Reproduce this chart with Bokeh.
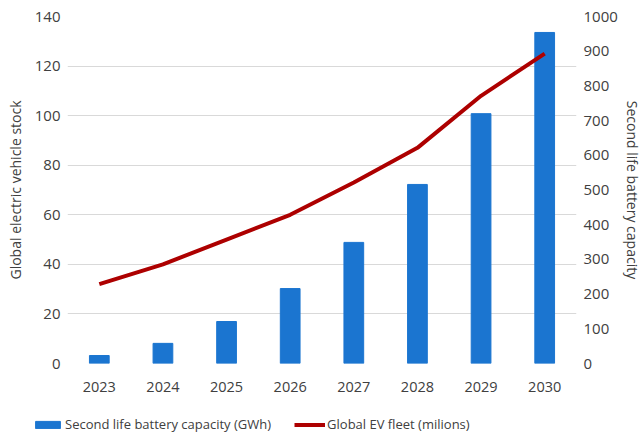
from bokeh.plotting import figure
from bokeh.models import (Range1d, LinearAxis, FixedTicker, Legend, LegendItem, FactorRange)
from bokeh.layouts import column
from bokeh.embed import file_html
from bokeh.resources import INLINE

years = ["2023", "2024", "2025", "2026", "2027", "2028", "2029", "2030"]
battery_gwh = [23, 58, 121, 216, 349, 516, 720, 954]
ev_fleet = [32, 40, 50, 60, 73, 87, 108, 125]
left_ticks = [0, 20, 40, 60, 80, 100, 120, 140]
right_ticks = [0, 100, 200, 300, 400, 500, 600, 700, 800, 900, 1000]

FONT = "Open Sans"
TXT = "#404040"
BLUE = "#1b75d0"
RED = "#ad0000"
W = 644

xr = FactorRange(*years, range_padding=0)
p = figure(width=W, height=403, x_range=xr,
           y_range=Range1d(0, 140), output_backend="svg", toolbar_location=None,
           min_border_left=67, min_border_right=66, min_border_top=16, min_border_bottom=40)
p.frame_align = False
p.extra_y_ranges = {"right": Range1d(0, 1000)}
p.outline_line_color = None
p.xgrid.grid_line_color = None
p.ygrid.grid_line_color = "#d9d9d9"
p.ygrid.grid_line_width = 1

p.vbar(x=years, top=battery_gwh, width=0.31, y_range_name="right",
       fill_color=BLUE, line_color=BLUE)
p.line(x=years, y=ev_fleet, line_color=RED, line_width=4)

rax = LinearAxis(y_range_name="right", ticker=FixedTicker(ticks=right_ticks))
p.add_layout(rax, "right")

for ax in [p.yaxis[0], p.xaxis[0], rax]:
    ax.axis_line_color = None
    ax.major_tick_line_color = None
    ax.minor_tick_line_color = None
    ax.major_tick_out = 0
    ax.major_tick_in = 0
    ax.minor_tick_out = 0
    ax.minor_tick_in = 0
    ax.major_label_text_font = FONT
    ax.major_label_text_font_size = "15px"
    ax.major_label_text_color = TXT
    ax.axis_label_text_font = FONT
    ax.axis_label_text_font_style = "normal"
    ax.axis_label_text_font_size = "14px"
    ax.axis_label_text_color = TXT

p.xaxis[0].major_label_text_font_size = "14.5px"
p.xaxis[0].major_label_standoff = 18

p.yaxis[0].ticker = FixedTicker(ticks=left_ticks)
p.yaxis[0].major_label_standoff = 7
p.yaxis[0].axis_label = "Global electric vehicle stock"
p.yaxis[0].axis_label_standoff = 7

rax.major_label_standoff = 7
rax.axis_label = "Second life battery capacity"
rax.axis_label_standoff = 2

# legend strip: same series as hidden renderers, only their legend is shown
lg = figure(width=W, height=32, x_range=xr, y_range=Range1d(0, 1000),
            output_backend="svg", toolbar_location=None,
            x_axis_type=None, y_axis_type=None,
            min_border_left=0, min_border_right=0, min_border_top=0, min_border_bottom=0)
lg.frame_align = False
lg.outline_line_color = None
lb = lg.vbar(x=years, top=battery_gwh, width=0.31, fill_color=BLUE, line_color=BLUE, visible=False)
ll = lg.line(x=years, y=ev_fleet, line_color=RED, line_width=4, visible=False)

legend = Legend(items=[LegendItem(label="Second life battery capacity (GWh)", renderers=[lb]),
                       LegendItem(label="Global EV fleet (milions)", renderers=[ll])],
                orientation="horizontal", location=(32, 2))
legend.padding = 0
legend.margin = 0
legend.spacing = 23
legend.glyph_width = 31
legend.glyph_height = 9
legend.label_standoff = 2
legend.label_text_font = FONT
legend.label_text_font_size = "13px"
legend.label_text_color = TXT
legend.border_line_color = None
legend.background_fill_alpha = 0
legend.inactive_fill_alpha = 0
legend.click_policy = "none"
lg.add_layout(legend, "center")

layout = column(p, lg, spacing=0)
open("out.html", "w").write(file_html(layout, INLINE))
